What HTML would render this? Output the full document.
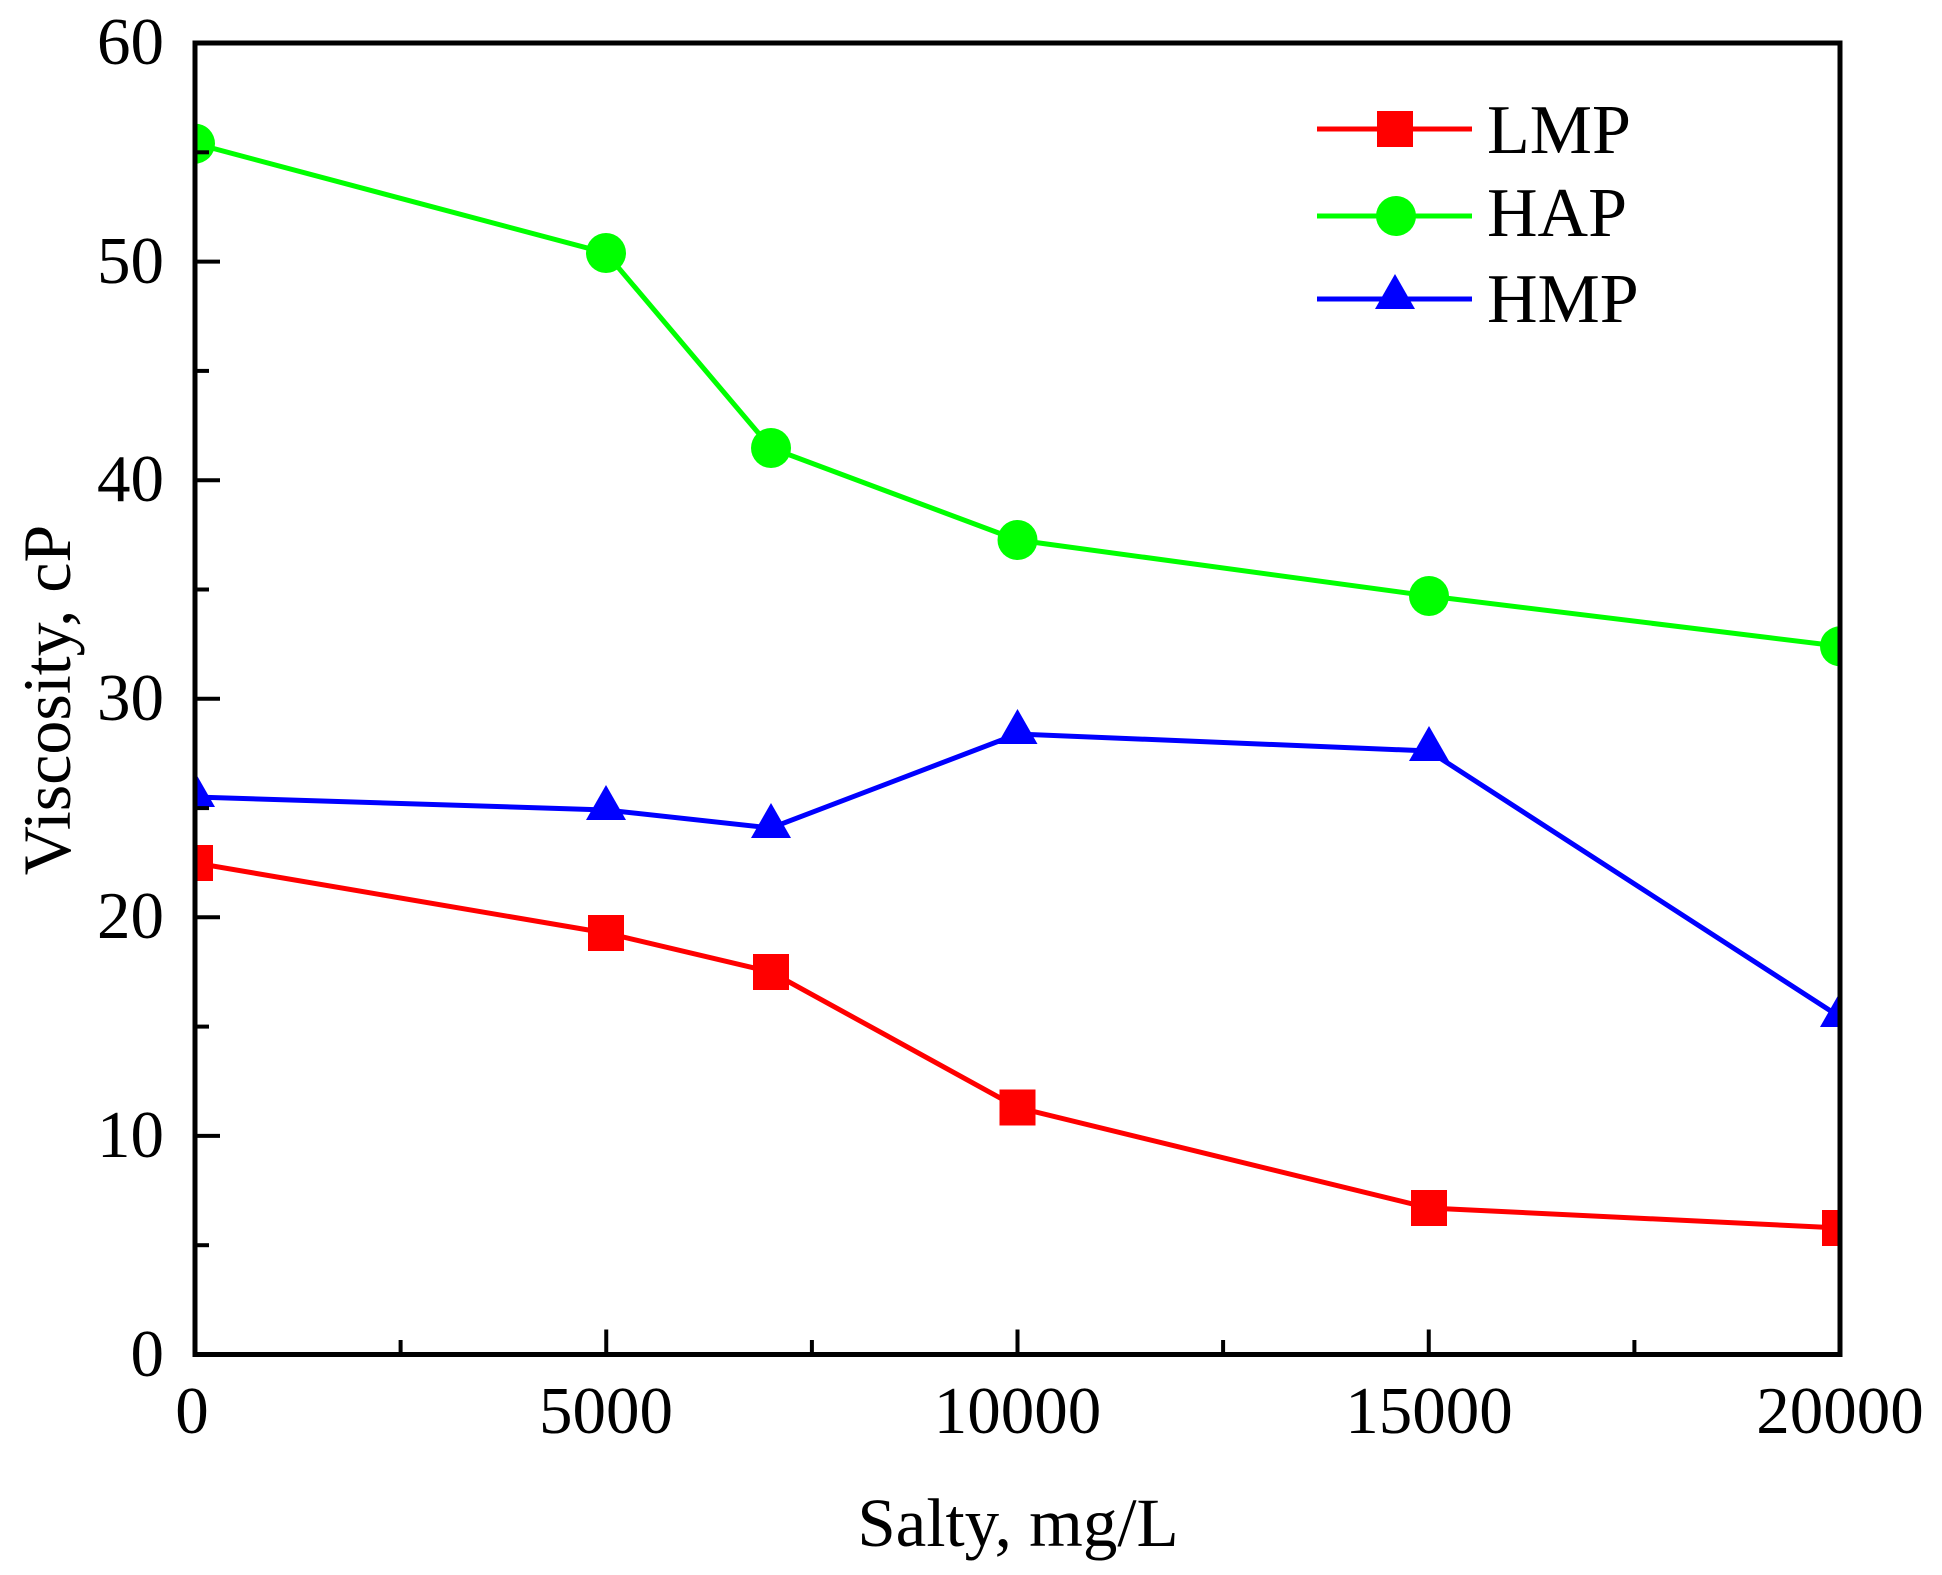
<!DOCTYPE html>
<html><head><meta charset="utf-8"><style>
html,body{margin:0;padding:0;background:#fff;}
svg{display:block;}
text{font-family:"Liberation Serif",serif;fill:#000;}
</style></head><body>
<svg width="1942" height="1575" viewBox="0 0 1942 1575" xmlns="http://www.w3.org/2000/svg">
<defs><clipPath id="c"><rect x="195" y="43" width="1645" height="1311.5"/></clipPath></defs>
<g clip-path="url(#c)">
<polyline fill="none" stroke="#00ff00" stroke-width="5" points="195,143.6 606,253 771,448 1017.5,540 1429,596 1840,646.3"/>
<polyline fill="none" stroke="#0000ff" stroke-width="5" points="195,797 606,810 771,828 1017.5,734 1429,751 1840,1017"/>
<polyline fill="none" stroke="#ff0000" stroke-width="5" points="195,863 606,933 771,972 1017.5,1107.5 1429,1208 1840,1228"/>
<g fill="#00ff00">
<circle cx="195" cy="143.6" r="20"/><circle cx="606" cy="253" r="20"/><circle cx="771" cy="448" r="20"/><circle cx="1017.5" cy="540" r="20"/><circle cx="1429" cy="596" r="20"/><circle cx="1840" cy="646.3" r="20"/>
</g>
<g fill="#0000ff">
<polygon points="195,772 175,807 215,807"/><polygon points="606,785 586,820 626,820"/><polygon points="771,803 751,838 791,838"/><polygon points="1017.5,709 997.5,744 1037.5,744"/><polygon points="1429,726 1409,761 1449,761"/><polygon points="1840,992 1820,1027 1860,1027"/>
</g>
<g fill="#ff0000">
<rect x="177" y="845" width="36" height="36"/><rect x="588" y="915" width="36" height="36"/><rect x="753" y="954" width="36" height="36"/><rect x="999.5" y="1089.5" width="36" height="36"/><rect x="1411" y="1190" width="36" height="36"/><rect x="1822" y="1210" width="36" height="36"/>
</g>
</g>
<rect x="195" y="43" width="1645" height="1311.5" fill="none" stroke="#000" stroke-width="5"/>
<g stroke="#000" stroke-width="4">
<line x1="195" y1="261.6" x2="220" y2="261.6"/><line x1="195" y1="480.2" x2="220" y2="480.2"/><line x1="195" y1="698.8" x2="220" y2="698.8"/><line x1="195" y1="917.3" x2="220" y2="917.3"/><line x1="195" y1="1135.9" x2="220" y2="1135.9"/>
<line x1="195" y1="152.3" x2="209" y2="152.3"/><line x1="195" y1="370.9" x2="209" y2="370.9"/><line x1="195" y1="589.5" x2="209" y2="589.5"/><line x1="195" y1="808.1" x2="209" y2="808.1"/><line x1="195" y1="1026.6" x2="209" y2="1026.6"/><line x1="195" y1="1245.2" x2="209" y2="1245.2"/>
<line x1="606.25" y1="1354.5" x2="606.25" y2="1329.5"/><line x1="1017.5" y1="1354.5" x2="1017.5" y2="1329.5"/><line x1="1428.75" y1="1354.5" x2="1428.75" y2="1329.5"/>
<line x1="400.6" y1="1354.5" x2="400.6" y2="1340"/><line x1="811.9" y1="1354.5" x2="811.9" y2="1340"/><line x1="1223.1" y1="1354.5" x2="1223.1" y2="1340"/><line x1="1634.4" y1="1354.5" x2="1634.4" y2="1340"/>
</g>
<g font-size="67" text-anchor="end">
<text x="164" y="64">60</text><text x="164" y="283">50</text><text x="164" y="501">40</text><text x="164" y="720">30</text><text x="164" y="938">20</text><text x="164" y="1157">10</text><text x="164" y="1376">0</text>
</g>
<g font-size="67" text-anchor="middle">
<text x="192" y="1433">0</text><text x="606" y="1433">5000</text><text x="1017.5" y="1433">10000</text><text x="1429" y="1433">15000</text><text x="1840" y="1433">20000</text>
</g>
<text x="1018" y="1546" font-size="69" text-anchor="middle">Salty, mg/L</text>
<text transform="translate(70,700) rotate(-90)" font-size="68" text-anchor="middle">Viscosity, cP</text>
<line x1="1317" y1="129" x2="1472" y2="129" stroke="#ff0000" stroke-width="5"/>
<rect x="1377" y="111" width="36" height="36" fill="#ff0000"/>
<line x1="1317" y1="216" x2="1472" y2="216" stroke="#00ff00" stroke-width="5"/>
<circle cx="1396" cy="216" r="20" fill="#00ff00"/>
<line x1="1317" y1="299" x2="1472" y2="299" stroke="#0000ff" stroke-width="5"/>
<polygon points="1395,274 1375,309 1415,309" fill="#0000ff"/>
<g font-size="70">
<text x="1487" y="153">LMP</text><text x="1487" y="236">HAP</text><text x="1487" y="322">HMP</text>
</g>
</svg>
</body></html>
